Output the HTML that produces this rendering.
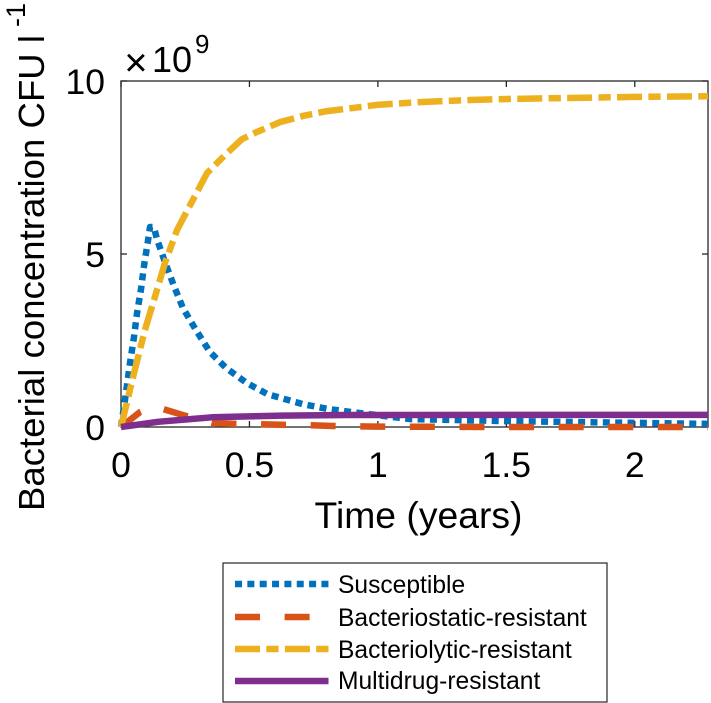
<!DOCTYPE html>
<html>
<head>
<meta charset="utf-8">
<style>
html,body{margin:0;padding:0;background:#fff;}
svg{display:block;}
text{font-family:"Liberation Sans",Arial,sans-serif;fill:#000;}
</style>
</head>
<body>
<svg id="chart" xmlns="http://www.w3.org/2000/svg" width="711" height="703" viewBox="0 0 711 703">
<g id="axes"></g>
<g id="series"></g>
<text x="124.3" y="76" font-size="40">×</text>
<text x="152" y="72" font-size="36">10</text>
<text x="195" y="53" font-size="26">9</text>
<text x="418.5" y="528" font-size="37.3" text-anchor="middle">Time (years)</text>
<text transform="translate(44,511) rotate(-90)" font-size="36.5" textLength="476">Bacterial concentration CFU l</text>
<text transform="translate(25,27) rotate(-90)" font-size="27">-1</text>
<g>
<rect x="223" y="563" width="384" height="139" fill="#fff" stroke="#262626" stroke-width="1.2"></rect>
<g id="legend-entries"></g>
</g>
</svg>
<script>
const xTicks = [0, 0.5, 1, 1.5, 2];
const xTickLabels = ['0', '0.5', '1', '1.5', '2'];
const yTicks = [0, 5, 10];
const yTickLabels = ['0', '5', '10'];
const xMax = 2.285;
const yMax = 10;

const seriesNames = ['Susceptible', 'Bacteriostatic-resistant', 'Bacteriolytic-resistant', 'Multidrug-resistant'];

const susceptibleT = [0, 0.016, 0.035, 0.05, 0.062, 0.078, 0.09, 0.105, 0.113, 0.128, 0.14, 0.171, 0.206, 0.241, 0.292, 0.346, 0.41, 0.49, 0.57, 0.708, 0.806, 0.9, 1.125, 1.5, 2, 2.285];
const susceptibleV = [0, 0.81, 1.85, 2.57, 3.27, 3.99, 4.68, 5.38, 5.78, 5.78, 5.43, 4.77, 4.08, 3.44, 2.8, 2.17, 1.7, 1.27, 0.95, 0.66, 0.52, 0.43, 0.23, 0.17, 0.12, 0.09];

const bacteriostaticT = [0, 0.074, 0.125, 0.163, 0.253, 0.354, 0.444, 0.54, 0.64, 0.736, 0.825, 1, 1.5, 2.285];
const bacteriostaticV = [0, 0.43, 0.6, 0.52, 0.32, 0.12, 0.09, 0.08, 0.06, 0.05, 0.03, 0.01, 0, 0];

const bacteriolyticT = [0, 0.047, 0.093, 0.132, 0.171, 0.218, 0.249, 0.335, 0.413, 0.471, 0.53, 0.619, 0.708, 0.802, 0.903, 0.996, 1.164, 1.359, 1.5, 2, 2.285];
const bacteriolyticV = [0, 1.45, 2.8, 3.76, 4.74, 5.69, 6.13, 7.34, 7.92, 8.32, 8.53, 8.81, 8.99, 9.13, 9.22, 9.31, 9.39, 9.45, 9.48, 9.54, 9.56];

const multidrugT = [0, 0.144, 0.257, 0.354, 0.455, 0.627, 0.88, 1.5, 2.285];
const multidrugV = [0, 0.15, 0.22, 0.28, 0.3, 0.33, 0.345, 0.35, 0.35];

const NS = 'http://www.w3.org/2000/svg';
const plotL = 121, plotR = 708, plotT = 81, plotB = 427;
function xScale(t) { return plotL + (t / xMax) * (plotR - plotL); }
function yScale(v) { return plotB - (v / yMax) * (plotB - plotT); }

function make(tag, attrs) {
  const el = document.createElementNS(NS, tag);
  Object.keys(attrs).forEach(function (k) { el.setAttribute(k, attrs[k]); });
  return el;
}

const axes = document.getElementById('axes');
const axisColor = '#262626';

const box = make('rect', { x: plotL, y: plotT, width: plotR - plotL, height: plotB - plotT, fill: 'none', stroke: axisColor, 'stroke-width': 1.3 });


axes.appendChild(box);

xTicks.forEach(function (t, i) {
  const x = xScale(t);
  const b = make('line', { x1: x, x2: x, y1: plotB, y2: plotB - 6, stroke: axisColor, 'stroke-width': 1.3 });
  
  
  axes.appendChild(b);
  const a = make('line', { x1: x, x2: x, y1: plotT, y2: plotT + 6, stroke: axisColor, 'stroke-width': 1.3 });
  
  
  axes.appendChild(a);
  const l = make('text', { x: x, y: 477, 'font-size': 35.5, 'text-anchor': 'middle' });
  
  
  l.textContent = xTickLabels[i];
  axes.appendChild(l);
});

yTicks.forEach(function (v, i) {
  const y = yScale(v);
  const b = make('line', { x1: plotL, x2: plotL + 6, y1: y, y2: y, stroke: axisColor, 'stroke-width': 1.3 });
  
  
  axes.appendChild(b);
  const a = make('line', { x1: plotR, x2: plotR - 6, y1: y, y2: y, stroke: axisColor, 'stroke-width': 1.3 });
  
  
  axes.appendChild(a);
  const l = make('text', { x: 105, y: y + 13, 'font-size': 35.5, 'text-anchor': 'end' });
  
  
  l.textContent = yTickLabels[i];
  axes.appendChild(l);
});

const seriesT = [susceptibleT, bacteriostaticT, bacteriolyticT, multidrugT];
const seriesV = [susceptibleV, bacteriostaticV, bacteriolyticV, multidrugV];
const colors = ['#0072BD', '#D95319', '#EDB120', '#7E2F8E'];
const dashes = ['7 5.35', '25 24.6', '25 6.3 12.3 6.3', 'none'];
const group = document.getElementById('series');

seriesNames.forEach(function (name, i) {
  let d = '';
  seriesT[i].forEach(function (t, j) {
    d += (j ? 'L' : 'M') + xScale(t).toFixed(2) + ' ' + yScale(seriesV[i][j]).toFixed(2);
  });
  const p = make('path', { d: d, fill: 'none', stroke: colors[i], 'stroke-width': 6.5, 'stroke-dasharray': dashes[i], 'stroke-linejoin': 'round' });
  
  
  group.appendChild(p);
});

const legendY = [584, 617, 649, 681];
const legendBase = [593, 626, 658, 689];
const legend = document.getElementById('legend-entries');
seriesNames.forEach(function (name, i) {
  const s = make('line', { x1: 235, x2: 328.5, y1: legendY[i], y2: legendY[i], stroke: colors[i], 'stroke-width': 6.5, 'stroke-dasharray': dashes[i] });
  
  
  legend.appendChild(s);
  const t = make('text', { x: 338, y: legendBase[i], 'font-size': 24.6 });
  
  
  t.textContent = name;
  legend.appendChild(t);
});
</script>
</body>
</html>
